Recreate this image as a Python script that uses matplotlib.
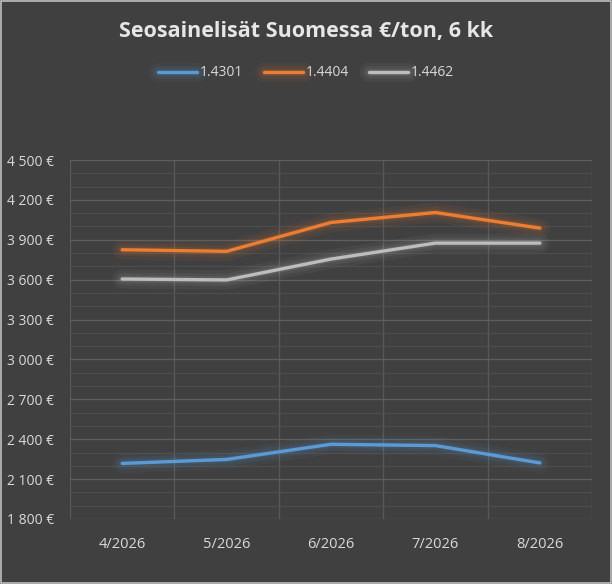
import matplotlib
matplotlib.use("Agg")
import matplotlib.pyplot as plt
import matplotlib.patheffects as pe
from matplotlib.patches import Rectangle
from matplotlib.ticker import MultipleLocator, FuncFormatter

categories = ["4/2026", "5/2026", "6/2026", "7/2026", "8/2026"]
series_names = ["1.4301", "1.4404", "1.4462"]
s_4301 = [2218, 2248, 2362, 2352, 2222]
s_4404 = [3825, 3813, 4030, 4105, 3988]
s_4462 = [3605, 3598, 3755, 3875, 3875]
colors = ["#5B9BD5", "#ED7D31", "#BDBDBD"]
title = "Seosainelisät Suomessa €/ton, 6 kk"

bg = "#404040"
txt = "#D9D9D9"
fig = plt.figure(figsize=(6.12, 5.84), dpi=100, facecolor=bg)
ax = fig.add_axes([70/612, 1-519/584, (592-70)/612, (519-160)/584])
ax.set_facecolor(bg)

x = list(range(len(categories)))
lines = []
for vals, name, c in zip([s_4301, s_4404, s_4462], series_names, colors):
    ln, = ax.plot(x, vals, color=c, lw=2.4, label=name, solid_capstyle="round", zorder=3,
                  path_effects=[pe.Stroke(linewidth=14, foreground=c, alpha=0.06),
                                pe.Stroke(linewidth=9, foreground=c, alpha=0.08),
                                pe.Stroke(linewidth=5, foreground=c, alpha=0.12),
                                pe.Normal()])
    lines.append(ln)

ax.set_xlim(-0.5, len(categories) - 0.5)
ax.set_ylim(1800, 4500)
ax.yaxis.set_major_locator(MultipleLocator(300))
ax.yaxis.set_minor_locator(MultipleLocator(100))
ax.yaxis.set_major_formatter(FuncFormatter(lambda v, p: f"{int(v):,} €".replace(",", " ")))
ax.set_xticks(x)
ax.set_xticklabels(categories)
ax.set_xticks([i - 0.5 for i in range(len(categories) + 1)], minor=True)

ax.grid(which="major", axis="y", color="#5E5E5E", lw=1.0)
ax.grid(which="minor", axis="y", color="#4E4E4E", lw=0.8)
ax.grid(which="minor", axis="x", color="#5A5A5A", lw=0.9)
ax.set_axisbelow(True)
for s in ax.spines.values():
    s.set_visible(False)
ax.tick_params(axis="both", which="both", length=0, colors=txt)
ax.tick_params(axis="x", pad=13, labelsize=10.5)
ax.tick_params(axis="y", labelsize=10)
for lbl in ax.get_yticklabels():
    lbl.set_horizontalalignment("left")
    lbl.set_x(-63/522)
ax.yaxis.set_tick_params(pad=0)
for lbl in ax.get_yticklabels() + ax.get_xticklabels():
    lbl.set_family("Open Sans")

fig.text(0.5, 1-32/584, title, ha="center", va="center", color="#E6E6E6",
         fontsize=15.5, fontweight="bold", family="Open Sans")
leg = fig.legend(handles=lines, loc="center", bbox_to_anchor=(0.5, 1-73/584), ncol=3,
                 frameon=False, labelcolor=txt, handlelength=2.8,
                 handletextpad=0.2, columnspacing=1.5, prop={"family": "Open Sans", "size": 10})
for t in leg.get_texts():
    t.set_color(txt)

fig.patches.append(Rectangle((0.001, 0.001), 0.998, 0.998, transform=fig.transFigure,
                             fill=False, edgecolor="#BFBFBF", lw=1.2))
fig.savefig("out.png", dpi=100, facecolor=bg)
